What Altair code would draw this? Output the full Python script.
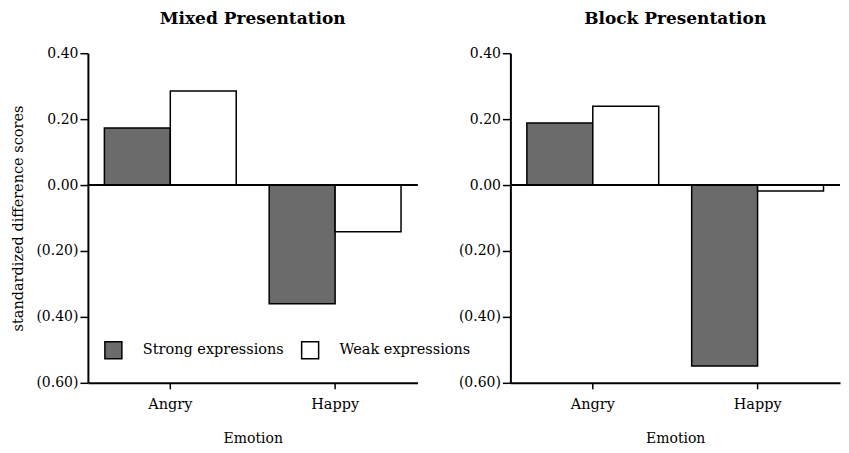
import altair as alt
import pandas as pd

emotions = ["Angry", "Happy"]
types = ["Strong expressions", "Weak expressions"]
mixed_strong = [0.173, -0.36]
mixed_weak = [0.285, -0.142]
block_strong = [0.188, -0.549]
block_weak = [0.239, -0.018]
y_ticks = [0.4, 0.2, 0.0, -0.2, -0.4, -0.6]

FONT = "DejaVu Serif"


def make_df(strong, weak):
    rows = []
    for i, e in enumerate(emotions):
        rows.append({"emotion": e, "type": types[0], "value": strong[i]})
        rows.append({"emotion": e, "type": types[1], "value": weak[i]})
    return pd.DataFrame(rows)


label_expr = ("datum.value < 0 ? '(' + format(-datum.value, '.2f') + ')' : "
              "format(datum.value, '.2f')")


def panel(df, title, show_ytitle, show_legend):
    color = alt.Color(
        "type:N",
        sort=types,
        scale=alt.Scale(domain=types, range=["#6b6b6b", "#ffffff"]),
        legend=(alt.Legend(
            orient="none", legendX=16, legendY=288, direction="horizontal",
            title=None, symbolType="square", symbolSize=289,
            symbolStrokeColor="black", symbolStrokeWidth=1.5,
            labelFont=FONT, labelFontSize=14.5, labelColor="black",
            labelOffset=20, columnPadding=14, columns=2,
        ) if show_legend else None),
    )
    bars = alt.Chart(df).mark_bar(stroke="black", strokeWidth=1.5).encode(
        x=alt.X("emotion:N", sort=emotions,
                scale=alt.Scale(paddingInner=0.2, paddingOuter=0.1),
                axis=alt.Axis(title="Emotion", labelAngle=0, labelPadding=9,
                              titlePadding=20, tickSize=6,
                              labelFontSize=14.5, titleFontSize=14)),
        xOffset=alt.XOffset("type:N", sort=types,
                            scale=alt.Scale(paddingInner=0, paddingOuter=0)),
        y=alt.Y("value:Q",
                scale=alt.Scale(domain=[-0.6, 0.4], nice=False, zero=False),
                axis=alt.Axis(values=y_ticks, labelExpr=label_expr,
                              title="standardized difference scores" if show_ytitle else None,
                              titlePadding=10, tickSize=8, labelPadding=2,
                              labelFontSize=14, titleFontSize=14.5)),
        color=color,
    )
    zero = alt.Chart(df).mark_rule(color="black", strokeWidth=1.5).encode(
        y=alt.datum(0)
    )
    return alt.layer(bars, zero).properties(
        width=330, height=330,
        title=alt.TitleParams(title, font=FONT, fontSize=17, fontWeight="bold",
                              offset=18, color="black"),
    )


left = panel(make_df(mixed_strong, mixed_weak), "Mixed Presentation", True, True)
right = panel(make_df(block_strong, block_weak), "Block Presentation", False, False)

chart = alt.hconcat(left, right, spacing=39).resolve_scale(
    color="shared"
).resolve_legend(color="shared").configure_view(stroke=None).configure_axis(
    grid=False, domainColor="black", domainWidth=2, tickColor="black",
    tickWidth=1.5, labelFont=FONT, labelColor="black",
    titleFont=FONT, titleFontWeight="normal", titleColor="black",
).properties(padding={"left": 2, "top": 2, "right": 0, "bottom": 0})

chart.save("out.html", embed_options={"renderer": "svg", "actions": False})
